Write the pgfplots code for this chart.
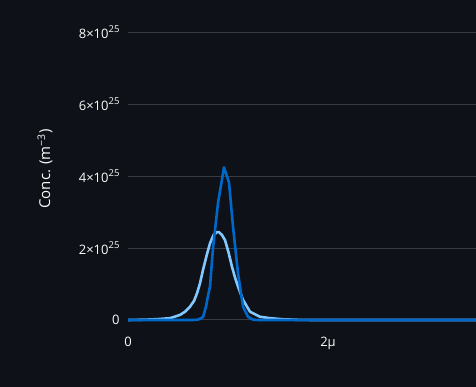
\documentclass[border=0pt]{standalone}
\usepackage{pgfplots}
\pgfplotsset{compat=1.18}
\usepackage{fontspec}
\setmainfont{Open Sans}
\definecolor{bg}{HTML}{0E1117}
\definecolor{gridc}{RGB}{58,60,68}
\definecolor{txt}{HTML}{FAFAFA}
\definecolor{darkb}{HTML}{0068C9}
\definecolor{lightb}{HTML}{83C9FF}
\newcommand{\mysup}[1]{\raisebox{0.42em}{\fontsize{9.5}{10}\selectfont #1}}
\begin{document}
\begin{tikzpicture}[x=1pt,y=1pt]
\fill[bg] (0,0) rectangle (476,387);
\begin{axis}[
  at={(128pt,63.4pt)}, anchor=south west,
  scale only axis, width=348pt, height=323.6pt,
  xmin=0, xmax=3.48, ymin=-0.1e25, ymax=8.89e25,
  scaled y ticks=false, scaled x ticks=false,
  axis line style={draw=none}, tick style={draw=none},
  xtick={0,2}, xticklabels={0,2μ},
  ytick={0,2e25,4e25,6e25,8e25},
  yticklabels={0,2×10\mysup{25},4×10\mysup{25},6×10\mysup{25},8×10\mysup{25}},
  ymajorgrids, major grid style={gridc, line width=1pt},
  ticklabel style={font=\fontsize{13}{15}\selectfont, text=txt},
  yticklabel style={anchor=east, xshift=-5pt},
  xticklabel style={anchor=north, yshift=-10pt},
  ylabel={Conc. (m\textsuperscript{−3})},
  ylabel style={font=\fontsize{15}{17}\selectfont, text=txt, at={(axis description cs:-0.2385,0.478)}, rotate=0, anchor=center},
  clip=true,
]
\addplot[lightb, line width=2.6pt, line join=round] coordinates {
(0,0) (0.10,0.005e25) (0.20,0.012e25) (0.30,0.025e25) (0.42,0.05e25) (0.52,0.14e25)
(0.57,0.23e25) (0.62,0.37e25) (0.66,0.53e25) (0.69,0.74e25) (0.72,1.02e25) (0.75,1.39e25)
(0.785,1.78e25) (0.82,2.13e25) (0.855,2.36e25) (0.89,2.44e25) (0.91,2.44e25) (0.94,2.36e25)
(0.97,2.22e25) (1.005,1.88e25) (1.04,1.48e25) (1.07,1.18e25) (1.10,0.93e25) (1.15,0.56e25)
(1.22,0.23e25) (1.32,0.09e25) (1.42,0.05e25) (1.55,0.02e25) (1.70,0.005e25) (1.85,0) (3.48,0)
};
\addplot[darkb, line width=2.6pt, line join=round] coordinates {
(0,0) (0.65,0) (0.70,0.01e25) (0.75,0.08e25) (0.78,0.37e25) (0.80,0.67e25) (0.82,0.93e25)
(0.85,2.0e25) (0.90,3.25e25) (0.96,4.24e25) (1.01,3.82e25) (1.05,2.6e25) (1.10,1.3e25)
(1.15,0.37e25) (1.20,0.09e25) (1.25,0.01e25) (1.30,0) (3.48,0)
};
\end{axis}
\pgfresetboundingbox
\path (0,0) rectangle (476,387);
\end{tikzpicture}
\end{document}
